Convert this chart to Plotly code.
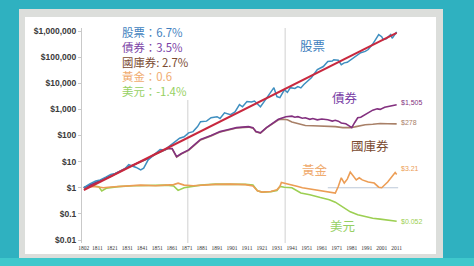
import plotly.graph_objects as go

# ---------------- data ----------------
stock_years = [1802, 1806, 1810, 1813, 1817, 1820, 1823, 1826, 1829, 1832, 1835, 1837, 1840, 1842, 1845,
               1849, 1853, 1856, 1858, 1862, 1866, 1869, 1872, 1875, 1878, 1880, 1884, 1887, 1891, 1893,
               1896, 1900, 1903, 1906, 1908, 1911, 1914, 1916, 1920, 1922, 1925, 1929, 1931, 1933, 1936,
               1938, 1940, 1943, 1945, 1947, 1949, 1952, 1954, 1958, 1961, 1962, 1965, 1968, 1969, 1972,
               1974, 1976, 1978, 1980, 1982, 1985, 1987, 1990, 1992, 1995, 1997, 1999, 2001, 2002, 2004,
               2007, 2008, 2009, 2011]
stock_vals = [1.0, 1.4, 1.8, 2.0, 2.6, 3.2, 3.5, 4.3, 5.0, 7.6, 6.6, 6.0, 4.8, 5.6, 11.7,
              17.8, 29, 28, 34, 52, 79, 89, 126, 141, 219, 339, 355, 479, 525, 447,
              741, 631, 794, 1514, 1259, 1995, 1905, 2089, 1259, 1820, 3162, 6761, 3090, 2818, 5623,
              4467, 6761, 6310, 7413, 6607, 8913, 13183, 16218, 33113, 39811, 43652, 67608, 70795, 79433, 75858,
              51286, 60256, 63096, 75858, 95499, 125893, 147911, 165959, 194984, 316228, 501187, 724436, 602560, 467735, 501187,
              724436, 524807, 616595, 930550]

trend_years = [1802, 2011]
trend_vals = [0.82, 850000]

bond_years = [1802, 1810, 1820, 1830, 1840, 1845, 1850, 1855, 1858, 1861, 1864, 1867, 1872, 1876, 1880,
              1887, 1893, 1898, 1904, 1912, 1915, 1917, 1920, 1924, 1928, 1932, 1937, 1941, 1943, 1945,
              1948, 1950, 1953, 1955, 1958, 1961, 1965, 1968, 1970, 1972, 1974, 1977, 1979, 1981, 1983,
              1985, 1987, 1990, 1993, 1995, 1998, 2000, 2003, 2005, 2008, 2011]
bond_vals = [1.0, 1.6, 2.8, 5.6, 10.0, 13.5, 20, 26, 32, 32, 15.5, 20, 28, 45, 71,
             100, 141, 166, 200, 219, 200, 141, 126, 200, 282, 417, 525, 550, 501, 525,
             457, 479, 417, 447, 398, 427, 398, 355, 380, 355, 302, 282, 240, 200, 316,
             479, 501, 631, 832, 933, 1047, 1000, 1202, 1259, 1349, 1505]

bill_years = [1802, 1810, 1820, 1830, 1840, 1845, 1850, 1855, 1858, 1861, 1864, 1867, 1872, 1876, 1880,
              1887, 1893, 1898, 1904, 1912, 1915, 1917, 1920, 1924, 1928, 1932, 1935, 1938, 1941, 1945,
              1950, 1955, 1960, 1965, 1970, 1975, 1980, 1983, 1987, 1990, 1995, 2000, 2005, 2011]
bill_vals = [1.0, 1.55, 2.7, 5.4, 9.6, 13, 19, 25, 31, 31, 15, 19.5, 27, 43, 68,
             96, 135, 160, 193, 210, 192, 138, 124, 195, 275, 398, 417, 398, 331, 282,
             240, 236, 234, 229, 219, 200, 200, 214, 240, 257, 269, 288, 282, 278]

gold_years = [1802, 1808, 1812, 1815, 1820, 1830, 1840, 1850, 1857, 1862, 1865, 1869, 1875, 1880, 1890,
              1900, 1910, 1915, 1918, 1921, 1927, 1931, 1933, 1934, 1937, 1941, 1945, 1948, 1952, 1958,
              1965, 1970, 1972, 1974, 1976, 1978, 1980, 1982, 1984, 1986, 1988, 1992, 1996, 1999, 2001,
              2005, 2008, 2010, 2011]
gold_vals = [1.0, 1.12, 1.07, 1.0, 1.07, 1.17, 1.26, 1.2, 1.26, 1.32, 1.5, 1.26, 1.2, 1.26, 1.35,
             1.38, 1.32, 1.17, 0.76, 0.68, 0.72, 0.83, 1.12, 1.6, 1.45, 1.35, 1.12, 1.0, 0.93, 0.83,
             0.71, 0.63, 1.12, 2.4, 1.51, 2.14, 3.98, 2.82, 2.0, 2.4, 2.0, 1.66, 1.51, 1.05, 1.0,
             1.66, 2.63, 3.8, 3.21]

usd_years = [1802, 1807, 1812, 1814, 1817, 1825, 1835, 1845, 1857, 1862, 1865, 1869, 1880, 1890, 1900,
             1910, 1915, 1918, 1921, 1927, 1931, 1933, 1936, 1941, 1947, 1953, 1960, 1966, 1970, 1975,
             1980, 1985, 1990, 1995, 2000, 2005, 2011]
usd_vals = [1.0, 1.2, 1.1, 0.76, 0.95, 1.1, 1.2, 1.26, 1.26, 1.17, 0.79, 1.0, 1.26, 1.38, 1.41,
            1.35, 1.26, 0.76, 0.68, 0.71, 0.79, 1.12, 1.05, 1.0, 0.63, 0.54, 0.42, 0.35, 0.28, 0.18,
            0.12, 0.093, 0.079, 0.068, 0.063, 0.058, 0.052]

ref_years = [1965, 2012]
ref_vals = [1, 1]

x_ticks = [1802, 1811, 1821, 1831, 1841, 1851, 1861, 1871, 1881, 1891, 1901, 1911, 1921, 1931, 1941,
           1951, 1961, 1971, 1981, 1991, 2001, 2011]
y_ticks = [0.01, 0.1, 1, 10, 100, 1000, 10000, 100000, 1000000]
y_tick_text = ["$0.01", "$0.1", "$1", "$10", "$100", "$1,000", "$10,000", "$100,000", "$1,000,000"]

legend_lines = ["股票：6.7%", "債券：3.5%", "國庫券: 2.7%", "黃金：0.6", "美元：-1.4%"]
series_names = ["股票", "債券", "國庫券", "黃金", "美元"]
end_labels = ["$930,550", "$1,505", "$278", "$3.21", "$0.052"]

# ---------------- styles ----------------
C_STOCK = "#3f8fc0"
C_TREND = "#c8283e"
C_BOND = "#83307f"
C_BILL = "#a88068"
C_GOLD = "#ec9d55"
C_USD = "#9ccf52"
TXT_COLORS = ["#3f7fbe", "#7a3fa6", "#7a4a30", "#f0ac70", "#96d062"]
CJK = "Noto Sans CJK TC"

fig = go.Figure()
fig.add_trace(go.Scatter(x=ref_years, y=ref_vals, mode="lines",
                         line=dict(color="#bcc8d8", width=1), hoverinfo="skip"))
fig.add_trace(go.Scatter(x=usd_years, y=usd_vals, mode="lines", line=dict(color=C_USD, width=1.6)))
fig.add_trace(go.Scatter(x=gold_years, y=gold_vals, mode="lines", line=dict(color=C_GOLD, width=1.6)))
fig.add_trace(go.Scatter(x=bill_years, y=bill_vals, mode="lines", line=dict(color=C_BILL, width=1.6)))
fig.add_trace(go.Scatter(x=bond_years, y=bond_vals, mode="lines", line=dict(color=C_BOND, width=1.6)))
fig.add_trace(go.Scatter(x=stock_years, y=stock_vals, mode="lines", line=dict(color=C_STOCK, width=1.5)))
fig.add_trace(go.Scatter(x=trend_years, y=trend_vals, mode="lines", line=dict(color=C_TREND, width=2)))

# plot area geometry (pixels): left 82, right 440, top 28, bottom 243
L, R, T, B = 82, 34, 28, 23
W, H = 474, 266
pw, ph = W - L - R, H - T - B


def px(xp):
    return (xp - L) / pw


def py(yp):
    return (H - B - yp) / ph


shapes = [
    dict(type="rect", xref="paper", yref="paper", x0=px(19), x1=px(443), y0=py(258), y1=py(9),
         fillcolor="#dcdedb", line=dict(width=0), layer="below"),
    dict(type="rect", xref="paper", yref="paper", x0=px(25), x1=px(436), y0=py(254), y1=py(17),
         fillcolor="#ffffff", line=dict(width=0), layer="below"),
    dict(type="rect", xref="paper", yref="paper", x0=px(0), x1=px(474), y0=py(266), y1=py(258),
         fillcolor="#3fc8cc", line=dict(width=0), layer="below"),
    dict(type="line", xref="x", yref="paper", x0=1871.5, x1=1871.5, y0=0, y1=py(100),
         line=dict(color="#d0d0d0", width=1), layer="below"),
    dict(type="line", xref="x", yref="paper", x0=1936.5, x1=1936.5, y0=0, y1=1,
         line=dict(color="#d0d0d0", width=1), layer="below"),
]

annotations = []
legend_html = "<br>".join(
    "<span style='color:%s'>%s</span>" % (c, t) for t, c in zip(legend_lines, TXT_COLORS))
annotations.append(dict(xref="paper", yref="paper", x=px(121), y=py(61.5), text=legend_html,
                        showarrow=False, xanchor="left", yanchor="middle", align="left",
                        borderpad=0, font=dict(family=CJK, size=11.4, color="#3f7fbe")))

lab_pos = [(1955.1, 5.46), (1976.5, 3.44), (1993.2, 1.6), (1956.4, 0.68), (1974.5, -1.46)]
for t, c, (xx, yy) in zip(series_names, TXT_COLORS, lab_pos):
    annotations.append(dict(xref="x", yref="y", x=xx, y=yy, text=t, showarrow=False,
                            xanchor="center", yanchor="middle", borderpad=0,
                            font=dict(family=CJK, size=12.5, color=c)))

end_pos = [(2006.2, 6.15), (2012.9, 3.25), (2012.9, 2.48), (2012.9, 0.72), (2012.9, -1.31)]
end_cols = [C_STOCK, C_BOND, C_BILL, C_GOLD, C_USD]
for t, c, (xx, yy) in zip(end_labels, end_cols, end_pos):
    annotations.append(dict(xref="x", yref="y", x=xx, y=yy, text=t, showarrow=False,
                            xanchor="left", yanchor="middle", borderpad=0,
                            font=dict(family="Liberation Sans", size=7, color=c)))

fig.update_layout(
    width=W, height=H,
    margin=dict(l=L, r=R, t=T, b=B, pad=0),
    paper_bgcolor="#2fb1c0",
    plot_bgcolor="rgba(0,0,0,0)",
    showlegend=False,
    shapes=shapes,
    annotations=annotations,
    xaxis=dict(range=[1800.8, 1800.8 + pw / 1.497], tickvals=x_ticks, ticktext=[str(v) for v in x_ticks],
               showgrid=False, zeroline=False, showline=False, ticks="",
               tickfont=dict(family="Liberation Serif", size=5.5, color="#333333"), tickangle=0),
    yaxis=dict(type="log", range=[-2.115, 6.115], tickvals=y_ticks, ticktext=y_tick_text,
               showgrid=False, zeroline=False, showline=True, linecolor="#c9c9c9", linewidth=1,
               ticks="outside", ticklen=3, tickcolor="#c9c9c9",
               tickfont=dict(family="Liberation Sans", size=8.5, color="#3a3a3a", weight="bold")),
)

fig.write_html("out.html")
